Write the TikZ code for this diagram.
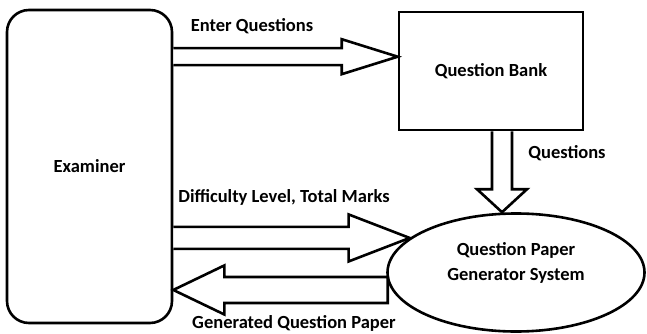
\documentclass[tikz,border=0pt]{standalone}
\usepackage{fontspec}
\setmainfont{Carlito}
\usepackage{tikz}
\usetikzlibrary{positioning}
\usetikzlibrary{calc}
\usetikzlibrary{shapes}

\tikzset{
	entity/.style={rectangle, draw=black, line width=2.6pt, fill=white, font=\bfseries},
	blockarrow/.style={draw=black, line width=2.6pt, line join=miter, fill=white},
	flowlabel/.style={font=\bfseries, inner sep=0pt}
}

\begin{document}
\fontsize{18.5}{25}\selectfont
\begin{tikzpicture}[x=1pt, y=-1pt]
		\useasboundingbox (0,0) rectangle (647,334);

		\node[entity, rounded corners=22pt, minimum width=165pt, minimum height=313pt](examiner) at (89.5,166.5){Examiner};
		\node[entity, minimum width=184pt, minimum height=118pt](bank) at (491,71){Question Bank};
		\node[ellipse, draw=black, line width=2.6pt, fill=white, inner sep=0pt, minimum width=257pt, minimum height=118pt, label={[align=center, font=\bfseries, yshift=10pt]center:Question Paper\\Generator System}](generator) at (516,272.5){};

		% arrow end points
		\coordinate (eqTip) at ($(bank.north west)+(0,46)$);
		\coordinate (eqStart) at (examiner.east |- eqTip);
		\coordinate (qStart) at ($(bank.south)+(11,0)$);
		\coordinate (qTip) at (qStart |- generator.north);
		\coordinate (dlTip) at (generator.162);
		\coordinate (dlStart) at (examiner.east |- dlTip);
		\coordinate (gpStart) at ($(generator.188)+(-4,0)$);
		\coordinate (gpTip) at (examiner.east |- gpStart);

		% draw enter questions arrow
		\draw[blockarrow] ($(eqStart)+(0,-8.5)$) -- ($(eqTip)+(-56,-8.5)$) -- ($(eqTip)+(-56,-17.5)$) -- (eqTip) -- ($(eqTip)+(-56,17.5)$) -- ($(eqTip)+(-56,8.5)$) -- ($(eqStart)+(0,8.5)$);
		% draw questions arrow
		\draw[blockarrow] ($(qStart)+(-10,0)$) -- ($(qTip)+(-10,-23)$) -- ($(qTip)+(-25,-23)$) -- (qTip) -- ($(qTip)+(25,-23)$) -- ($(qTip)+(10,-23)$) -- ($(qStart)+(10,0)$);
		% draw difficulty arrow
		\draw[blockarrow] ($(dlStart)+(0,-11)$) -- ($(dlTip)+(-61,-11)$) -- ($(dlTip)+(-61,-23.5)$) -- (dlTip) -- ($(dlTip)+(-61,23.5)$) -- ($(dlTip)+(-61,11)$) -- ($(dlStart)+(0,11)$);
		% draw generated paper arrow
		\draw[blockarrow] ($(gpStart)+(0,-13)$) -- ($(gpTip)+(51,-13)$) -- ($(gpTip)+(51,-24.5)$) -- (gpTip) -- ($(gpTip)+(51,24.5)$) -- ($(gpTip)+(51,13)$) -- ($(gpStart)+(0,13)$) -- cycle;

		% draw labels
		\node[flowlabel](eqLabel) at (252,26){Enter Questions};
		\node[flowlabel](qLabel) at (567,153){Questions};
		\node[flowlabel](dlLabel) at (284,197){Difficulty Level, Total Marks};
		\node[flowlabel](gpLabel) at (294,323){Generated Question Paper};
	\end{tikzpicture}
\end{document}
